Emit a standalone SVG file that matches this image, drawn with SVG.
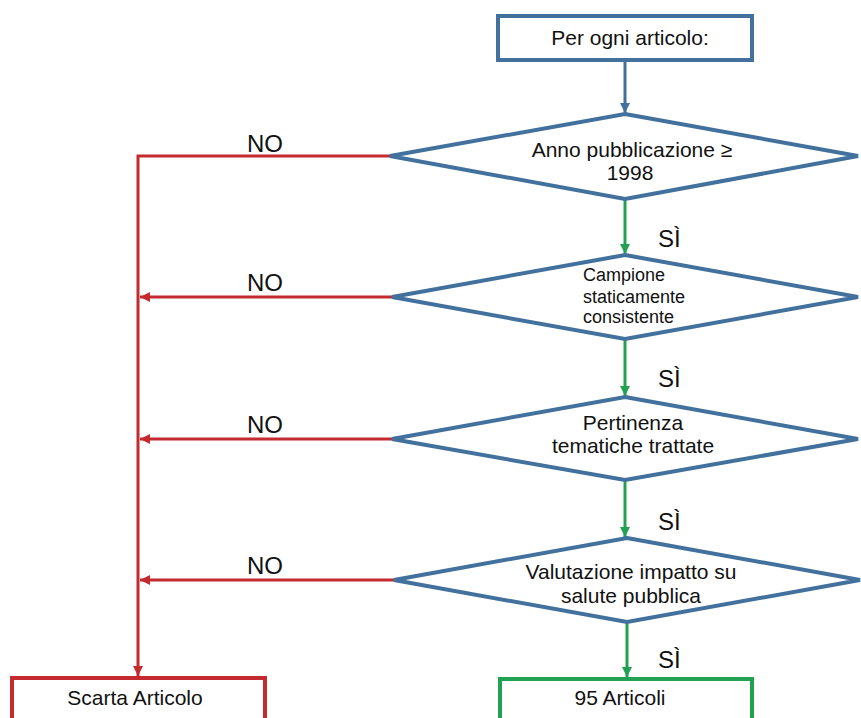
<svg xmlns="http://www.w3.org/2000/svg" width="861" height="718" viewBox="0 0 861 718">
<style>
.t{font-family:"Liberation Sans",Arial,sans-serif;font-size:21px;fill:#111}
.s{font-size:18px}
.lab{font-family:"Liberation Sans",Arial,sans-serif;font-size:24px;fill:#111}
.blue{fill:#fff;stroke:#41719C;stroke-width:4}
.red{fill:#fff;stroke:#C42B2F;stroke-width:4}
.green{fill:#fff;stroke:#22A152;stroke-width:4}
.cb{fill:none;stroke:#41719C;stroke-width:3}
.cr{fill:none;stroke:#C42B2F;stroke-width:3}
.cg{fill:none;stroke:#22A152;stroke-width:3}
</style>
<defs>
<marker id="ab" markerUnits="userSpaceOnUse" markerWidth="12" markerHeight="12" refX="10" refY="5" orient="auto"><path d="M0,0 L10,5 L0,10 z" fill="#41719C"/></marker>
<marker id="ar" markerUnits="userSpaceOnUse" markerWidth="12" markerHeight="12" refX="10" refY="5" orient="auto"><path d="M0,0 L10,5 L0,10 z" fill="#C42B2F"/></marker>
<marker id="ag" markerUnits="userSpaceOnUse" markerWidth="12" markerHeight="12" refX="10" refY="5" orient="auto"><path d="M0,0 L10,5 L0,10 z" fill="#22A152"/></marker>
</defs>
<rect width="861" height="718" fill="#fff"/>
<g id="connectors">
<line class="cb" x1="625" y1="60" x2="625" y2="113" marker-end="url(#ab)"/>
<line class="cg" x1="625" y1="199" x2="625" y2="254" marker-end="url(#ag)"/>
<line class="cg" x1="625" y1="339" x2="625" y2="396" marker-end="url(#ag)"/>
<line class="cg" x1="625" y1="480" x2="625" y2="537" marker-end="url(#ag)"/>
<line class="cg" x1="627" y1="622" x2="627" y2="677" marker-end="url(#ag)"/>
<polyline class="cr" points="390,156 138,156 138,676" marker-end="url(#ar)"/>
<line class="cr" x1="392" y1="297" x2="140" y2="297" marker-end="url(#ar)"/>
<line class="cr" x1="392" y1="439" x2="140" y2="439" marker-end="url(#ar)"/>
<line class="cr" x1="394" y1="580" x2="140" y2="580" marker-end="url(#ar)"/>
<text class="lab" x="247" y="152">NO</text>
<text class="lab" x="247" y="291">NO</text>
<text class="lab" x="247" y="433">NO</text>
<text class="lab" x="247" y="574">NO</text>
<text class="lab" x="658" y="247">SÌ</text>
<text class="lab" x="658" y="387">SÌ</text>
<text class="lab" x="658" y="530">SÌ</text>
<text class="lab" x="658" y="668">SÌ</text>
</g>
<g id="start">
<rect class="blue" x="498" y="16" width="254" height="44"/>
<text class="t" x="630" y="45" text-anchor="middle">Per ogni articolo:</text>
</g>
<g id="d1">
<polygon class="blue" points="625,114 858,156 625,199 390,156"/>
<text class="t" x="632" y="157" text-anchor="middle">Anno pubblicazione ≥</text>
<text class="t" x="630" y="180" text-anchor="middle">1998</text>
</g>
<g id="d2">
<polygon class="blue" points="625,255 858,297 625,339 392,297"/>
<text class="t s" x="583" y="281">Campione</text>
<text class="t s" x="583" y="303">staticamente</text>
<text class="t s" x="583" y="323">consistente</text>
</g>
<g id="d3">
<polygon class="blue" points="625,397 858,439 625,480 392,439"/>
<text class="t" x="633" y="430" text-anchor="middle">Pertinenza</text>
<text class="t" x="633" y="453" text-anchor="middle">tematiche trattate</text>
</g>
<g id="d4">
<polygon class="blue" points="627,538 860,580 627,622 394,580"/>
<text class="t" x="631" y="579" text-anchor="middle">Valutazione impatto su</text>
<text class="t" x="631" y="603" text-anchor="middle">salute pubblica</text>
</g>
<g id="scarta">
<rect class="red" x="12" y="678" width="253" height="50"/>
<text class="t" x="135" y="705" text-anchor="middle">Scarta Articolo</text>
</g>
<g id="result">
<rect class="green" x="500" y="679" width="252" height="50"/>
<text class="t" x="620" y="705" text-anchor="middle">95 Articoli</text>
</g>
</svg>
